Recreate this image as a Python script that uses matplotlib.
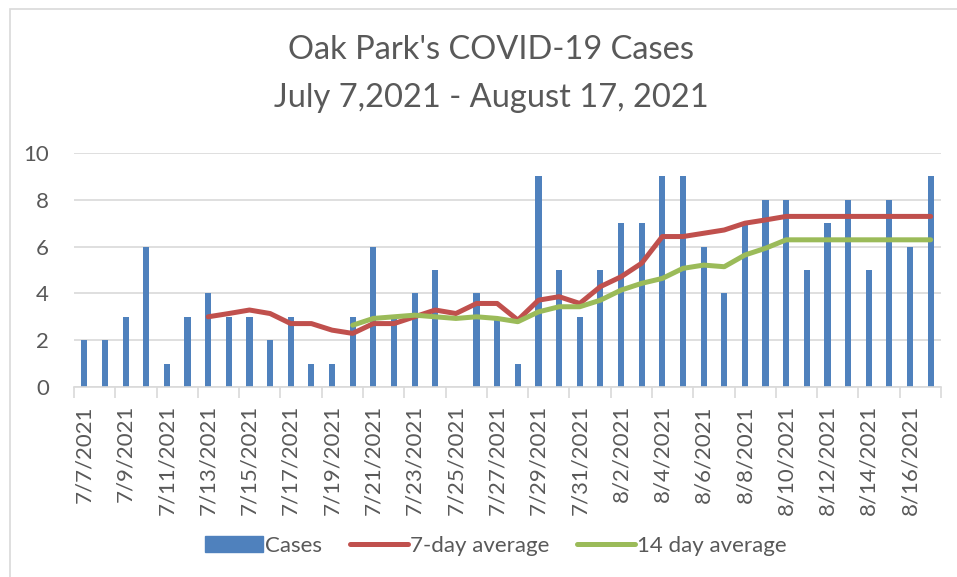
import matplotlib.pyplot as plt
from matplotlib.patches import Rectangle
from matplotlib.lines import Line2D

plt.rcParams['font.family'] = ['Lato', 'DejaVu Sans']

dates = ["7/7/2021", "7/8/2021", "7/9/2021", "7/10/2021", "7/11/2021", "7/12/2021",
         "7/13/2021", "7/14/2021", "7/15/2021", "7/16/2021", "7/17/2021", "7/18/2021",
         "7/19/2021", "7/20/2021", "7/21/2021", "7/22/2021", "7/23/2021", "7/24/2021",
         "7/25/2021", "7/26/2021", "7/27/2021", "7/28/2021", "7/29/2021", "7/30/2021",
         "7/31/2021", "8/1/2021", "8/2/2021", "8/3/2021", "8/4/2021", "8/5/2021",
         "8/6/2021", "8/7/2021", "8/8/2021", "8/9/2021", "8/10/2021", "8/11/2021",
         "8/12/2021", "8/13/2021", "8/14/2021", "8/15/2021", "8/16/2021", "8/17/2021"]
cases = [2, 2, 3, 6, 1, 3, 4, 3, 3, 2, 3, 1, 1, 3, 6, 3, 4, 5, 0, 4, 3,
         1, 9, 5, 3, 5, 7, 7, 9, 9, 6, 4, 7, 8, 8, 5, 7, 8, 5, 8, 6, 9]
# 7-day average, first point on 7/13
avg7 = [3.00, 3.14, 3.29, 3.14, 2.71, 2.71, 2.43, 2.29, 2.71, 2.71, 3.00, 3.29,
        3.14, 3.57, 3.57, 2.86, 3.71, 3.86, 3.57, 4.29, 4.71, 5.29, 6.43, 6.43,
        6.57, 6.71, 7.00, 7.14, 7.29, 7.29, 7.29, 7.29, 7.29, 7.29, 7.29, 7.29]
# 14-day average, first point on 7/20
avg14 = [2.64, 2.93, 3.00, 3.07, 3.00, 2.93, 3.00, 2.93, 2.79, 3.21, 3.43, 3.43,
         3.71, 4.14, 4.43, 4.64, 5.07, 5.21, 5.14, 5.64, 5.93, 6.29, 6.29, 6.29,
         6.29, 6.29, 6.29, 6.29, 6.29]

text_color = "#595959"
grid_color = "#d9d9d9"
small = 16

fig = plt.figure(figsize=(9.57, 5.77), dpi=100)
ax = fig.add_axes([74 / 957, 1 - 387 / 577, 867 / 957, 234 / 577])

x = list(range(len(cases)))
ax.bar(x, cases, width=0.3, color="#4f81bd", zorder=2)
n7 = len(cases) - len(avg7)
n14 = len(cases) - len(avg14)
ax.plot(x[n7:], avg7, color="#c0504d", lw=3.6, solid_capstyle="round", zorder=3)
ax.plot(x[n14:], avg14, color="#9bbb59", lw=3.6, solid_capstyle="round", zorder=3)

ax.set_xlim(-0.5, len(cases) - 0.5)
ax.set_ylim(0, 10)
ax.set_yticks(range(0, 11, 2))
ax.yaxis.grid(True, color=grid_color, lw=1.2, zorder=0)
ax.tick_params(axis="y", length=0, labelsize=small, colors=text_color, pad=18)

ax.set_xticks(x[::2])
ax.set_xticklabels(dates[::2], rotation=90)
ax.set_xticks([i - 0.5 for i in range(0, len(cases) + 1, 2)], minor=True)
ax.tick_params(axis="x", which="major", length=0, labelsize=small, colors=text_color, pad=13)
ax.tick_params(axis="x", which="minor", length=8, color=grid_color, width=1.2)

for s in ["top", "right", "left"]:
    ax.spines[s].set_visible(False)
ax.spines["bottom"].set_color(grid_color)
ax.spines["bottom"].set_linewidth(1.2)

fig.text(0.513, 1 - 50 / 577, "Oak Park's COVID-19 Cases", ha="center", va="center",
         fontsize=23.5, color=text_color)
fig.text(0.513, 1 - 98 / 577, "July 7,2021 - August 17, 2021", ha="center", va="center",
         fontsize=23.5, color=text_color)

handles = [Rectangle((0, 0), 1, 1, color="#4f81bd"),
           Line2D([], [], color="#c0504d", lw=3.6, solid_capstyle="round"),
           Line2D([], [], color="#9bbb59", lw=3.6, solid_capstyle="round")]
fig.legend(handles, ["Cases", "7-day average", "14 day average"], loc="center",
           bbox_to_anchor=(0.518, 1 - 546 / 577), ncol=3, frameon=False,
           fontsize=small, labelcolor=text_color, handlelength=2.6, handletextpad=0.1,
           columnspacing=1.25)

fig.add_artist(Rectangle((9.5 / 957, -0.1), 1.2, 1 - 9 / 577 + 0.1, transform=fig.transFigure,
                         fill=False, edgecolor="#d9d9d9", lw=1.2))

fig.savefig("out.png", dpi=100)
